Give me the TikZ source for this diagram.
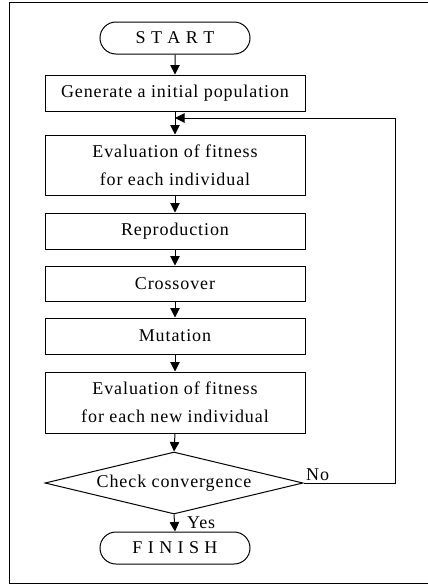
\documentclass[tikz,border=0pt]{standalone}
\usepackage{fontspec}
\setmainfont{Liberation Serif}[LetterSpace=5]
\usetikzlibrary{arrows.meta,shapes.geometric,shapes.misc}
\begin{document}
\begin{tikzpicture}[x=1pt,y=-1pt,
  every node/.style={font=\fontsize{18}{28}\selectfont},
  procbox/.style={draw,line width=1pt,minimum width=260pt,inner sep=0pt,align=center},
  termbox/.style={draw,line width=1pt,rounded rectangle,minimum width=150pt,minimum height=32pt,inner sep=0pt},
  decbox/.style={draw,line width=1pt,diamond,aspect=4.2,minimum width=258pt,minimum height=62pt,inner sep=0pt},
  flow/.style={line width=1pt,-{Triangle[length=9.5pt,width=9.5pt]}},
  lbl/.style={inner sep=0pt}]
\useasboundingbox (0,0) rectangle (428,587);
\draw[line width=1pt] (432,2) -- (9,2) -- (9,583) -- (432,583);
\node[termbox] (start) at (175,38) {S T A R T};
\node[procbox,minimum height=36pt] (gen) at (175,93) {Generate a initial population};
\node[procbox,minimum height=60pt] (eval) at (175,165) {Evaluation of fitness\\for each individual};
\node[procbox,minimum height=36pt] (rep) at (175,231) {Reproduction};
\node[procbox,minimum height=35pt] (cross) at (175,283.5) {Crossover};
\node[procbox,minimum height=36pt] (mut) at (175,336) {Mutation};
\node[procbox,minimum height=61pt] (evaln) at (175,402.5) {Evaluation of fitness\\for each new individual};
\node[decbox] (check) at (174,483) {Check convergence};
\node[termbox] (finish) at (175,548) {F I N I S H};
\coordinate (join) at (175,118);
\coordinate (rc) at (395,483);
\coordinate (rt) at (395,118);
\draw[flow] (start) -- (gen);
\draw[flow] (gen) -- (eval);
\draw[flow] (eval) -- (rep);
\draw[flow] (rep) -- (cross);
\draw[flow] (cross) -- (mut);
\draw[flow] (mut) -- (evaln);
\draw[flow] (evaln.south) -- (check.north);
\draw[flow] (check.south) -- (finish.north);
\draw[flow] (check.east) -- (rc) -- (rt) -- (join);
\node[lbl,anchor=south west] (no) at (306,481) {No};
\node[lbl,anchor=west] (yes) at (187,523) {Yes};
\end{tikzpicture}
\end{document}
